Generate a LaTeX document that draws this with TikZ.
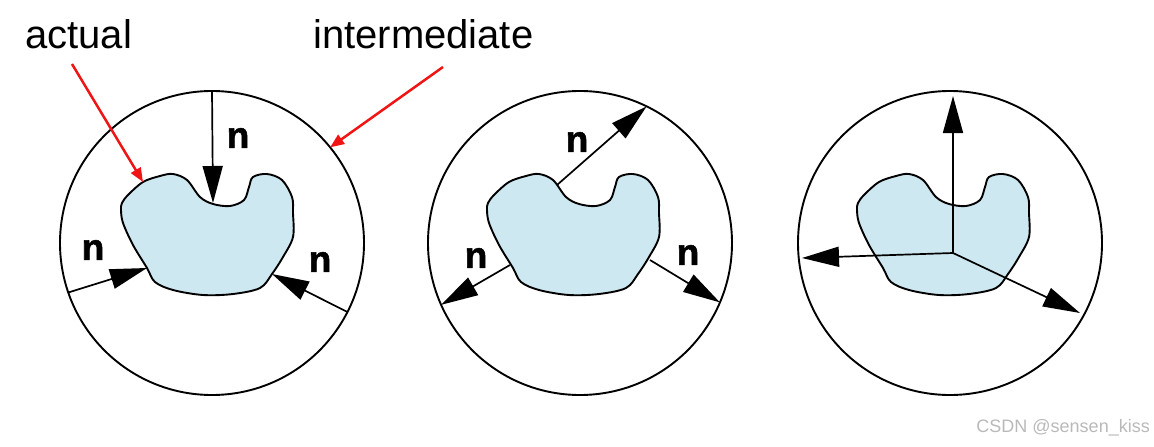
\documentclass[tikz,border=0pt]{standalone}
\usepackage{fontspec}
\setmainfont{Liberation Sans}
\newfontfamily\heavyfont[FakeBold=1.5]{Liberation Sans Bold}
\usetikzlibrary{arrows.meta}
\definecolor{blobfill}{RGB}{205,232,240}
\definecolor{redarrow}{RGB}{240,20,20}
\definecolor{wmgray}{RGB}{185,185,185}
\tikzset{
  ring/.style={draw, circle, minimum size=304pt, inner sep=0pt, outer sep=0pt, line width=1.9pt},
  blob/.style={draw, fill=blobfill, line width=1.9pt},
  normal/.style={line width=1.7pt, -{Triangle[length=37pt, width=20pt]}},
  redarr/.style={draw=redarrow, line width=2.5pt, -{Triangle[length=14pt, width=11pt]}, color=redarrow},
  nlabel/.style={font=\fontsize{37}{40}\selectfont\heavyfont, inner sep=0pt},
  caption/.style={font=\fontsize{40}{46}\selectfont, inner sep=0pt},
}
\newcommand{\blobpath}{plot[smooth cycle, tension=0.55] coordinates {
 (-90,-40) (-84,-48) (-69,-61) (-52,-67) (-39,-69) (-25,-63) (-12,-46) (1,-39) (18,-37) (32,-43)
 (37,-56) (41,-66) (55,-69) (70,-63) (80,-46) (81,-30) (81,-6) (71,14) (60,31) (48,45)
 (21,51) (-9,52) (-39,47) (-57,39) (-65,25) (-79,2) (-89,-20) (-91,-33)}}
\begin{document}
\begin{tikzpicture}[x=1pt, y=-1pt]
\useasboundingbox (0,0) rectangle (1154,447);
% circles
\node[ring] (c1) at (212,243) {};
\node[ring] (c2) at (580,243) {};
\node[ring] (c3) at (950,243) {};
% blobs
\begin{scope}[shift={(212,243)}]
  \draw[blob] \blobpath;
  \coordinate (b1n) at (1,-40);
  \coordinate (b1l) at (-65,25);
  \coordinate (b1r) at (60,31);
  \coordinate (b1a) at (-69,-61);
\end{scope}
\begin{scope}[shift={(578,243)}]
  \draw[blob] \blobpath;
  \coordinate (b2t) at (-21,-58);
  \coordinate (b2l) at (-68,22);
  \coordinate (b2r) at (72,17);
\end{scope}
\begin{scope}[shift={(948,243)}]
  \draw[blob] \blobpath;
  \coordinate (o3) at (5,10);
\end{scope}
% circle 1 normals (pointing inward)
\draw[normal] (c1.north) -- (b1n);
\draw[normal] (c1.199) -- (b1l);
\draw[normal] (c1.-27) -- (b1r);
\node[nlabel] (n1t) at (238,138) {n};
\node[nlabel] (n1l) at (93,250) {n};
\node[nlabel] (n1r) at (320,262) {n};
% circle 2 normals (pointing outward)
\draw[normal] (b2t) -- (c2.64);
\draw[normal] (b2l) -- (c2.204);
\draw[normal] (b2r) -- (c2.-23);
\node[nlabel] (n2t) at (577,142) {n};
\node[nlabel] (n2l) at (476,258) {n};
\node[nlabel] (n2r) at (688,255) {n};
% circle 3 axes
\coordinate (x3u) at (953,96);
\coordinate (x3l) at (802,258);
\coordinate (x3r) at (1080,313);
\draw[normal] (o3) -- (x3u);
\draw[normal] (o3) -- (x3l);
\draw[normal] (o3) -- (x3r);
% captions
\node[caption, anchor=base west] (act) at (25,48) {actual};
\node[caption, anchor=base west] (inter) at (313,48) {intermediate};
\coordinate (actfrom) at (72,64);
\coordinate (interfrom) at (443,67);
\draw[redarr] (actfrom) -- (b1a);
\draw[redarr] (interfrom) -- (c1.39);
% watermark
\node[anchor=base east, inner sep=0pt, text=wmgray, font=\fontsize{18}{20}\selectfont] (wm) at (1150,432) {CSDN @sensen\_kiss};
\end{tikzpicture}
\end{document}
